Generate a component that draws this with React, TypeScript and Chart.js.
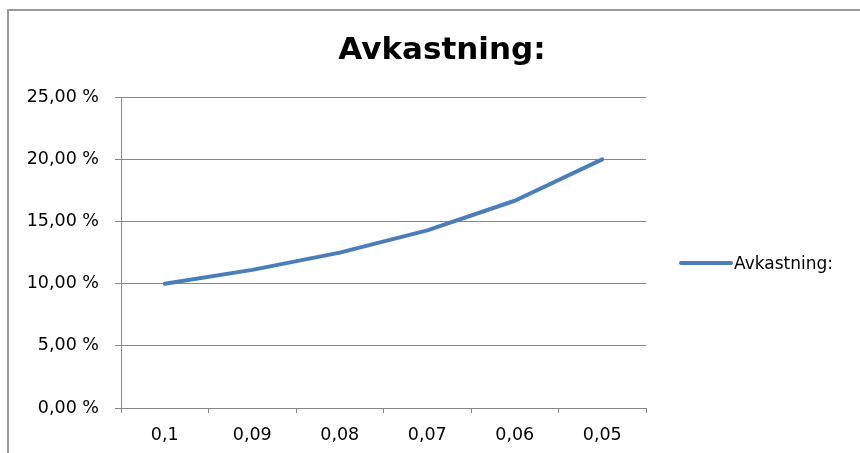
import React, { useEffect, useRef } from "react";
import { Chart, registerables } from "chart.js";

Chart.register(...registerables);

const categories = ["0,1", "0,09", "0,08", "0,07", "0,06", "0,05"];
const seriesName = "Avkastning:";
const seriesValues = [10.0, 11.11, 12.5, 14.29, 16.67, 20.0];
const titleText = "Avkastning:";
const yMin = 0;
const yMax = 25;
const yStep = 5;

const FONT = "'DejaVu Sans', sans-serif";
const LINE_COLOR = "#4A7EBB";
const GRID_COLOR = "#878787";

const legendPlugin = {
  id: "sideLegend",
  afterDraw(chart: any) {
    const ctx = chart.ctx;
    const ds = chart.data.datasets[0];
    const x0 = chart.chartArea.right + 35;
    const y0 = 252;
    ctx.save();
    ctx.strokeStyle = ds.borderColor;
    ctx.lineWidth = 4;
    ctx.lineCap = "round";
    ctx.beginPath();
    ctx.moveTo(x0, y0);
    ctx.lineTo(x0 + 50, y0);
    ctx.stroke();
    ctx.fillStyle = "#000";
    ctx.font = `17px ${FONT}`;
    ctx.textBaseline = "middle";
    ctx.textAlign = "left";
    ctx.fillText(ds.label, x0 + 53, y0 + 2);
    ctx.restore();
  },
};

export default function App() {
  const ref = useRef<HTMLCanvasElement | null>(null);
  useEffect(() => {
    if (!ref.current) return;
    const chart = new Chart(ref.current, {
      type: "line",
      data: {
        labels: categories,
        datasets: [
          {
            label: seriesName,
            data: seriesValues,
            borderColor: LINE_COLOR,
            backgroundColor: LINE_COLOR,
            borderWidth: 4,
            pointRadius: 0,
            tension: 0,
            borderCapStyle: "round",
            borderJoinStyle: "round",
            yAxisID: "y",
          },
        ],
      },
      options: {
        responsive: false,
        animation: false,
        layout: { padding: { left: 13, right: 0, top: 0, bottom: 0 } },
        plugins: {
          legend: { display: false },
          tooltip: { enabled: false },
          title: {
            display: true,
            text: titleText,
            color: "#000",
            font: { family: FONT, size: 31, weight: "bold" },
            padding: { top: 21, bottom: 28 },
          },
        },
        scales: {
          x: {
            offset: true,
            afterFit(scale: any) {
              scale.height = 48;
            },
            grid: {
              offset: true,
              drawOnChartArea: false,
              drawTicks: true,
              tickLength: 5,
              color: GRID_COLOR,
            },
            border: { display: true, color: GRID_COLOR },
            ticks: {
              color: "#000",
              padding: 12,
              maxRotation: 0,
              font: { family: FONT, size: 17.5 },
            },
          },
          y: {
            min: yMin,
            max: yMax,
            afterFit(scale: any) {
              scale.width = 99;
            },
            grid: {
              color: GRID_COLOR,
              tickLength: 6,
              drawTicks: true,
            },
            border: { display: true, color: GRID_COLOR },
            ticks: {
              stepSize: yStep,
              color: "#000",
              padding: 16,
              font: { family: FONT, size: 17.5 },
              callback: (v: any) => Number(v).toFixed(2).replace(".", ",") + " %",
            },
          },
          legendSpace: {
            type: "linear",
            position: "right",
            display: true,
            afterFit(scale: any) {
              scale.width = 216;
            },
            grid: { display: false, drawTicks: false },
            border: { display: false },
            ticks: { display: false },
          },
        },
      },
      plugins: [legendPlugin],
    });
    return () => chart.destroy();
  }, []);

  return (
    <div
      style={{
        position: "fixed",
        left: 0,
        top: 0,
        width: 860,
        height: 453,
        overflow: "hidden",
        background: "#fff",
      }}
    >
      <div
        style={{
          position: "absolute",
          left: 7,
          top: 9,
          width: 880,
          height: 470,
          border: "2px solid #9a9a9a",
          boxSizing: "border-box",
          background: "#fff",
        }}
      >
        <canvas ref={ref} width={853} height={445} style={{ display: "block", width: 853, height: 445 }} />
      </div>
    </div>
  );
}
